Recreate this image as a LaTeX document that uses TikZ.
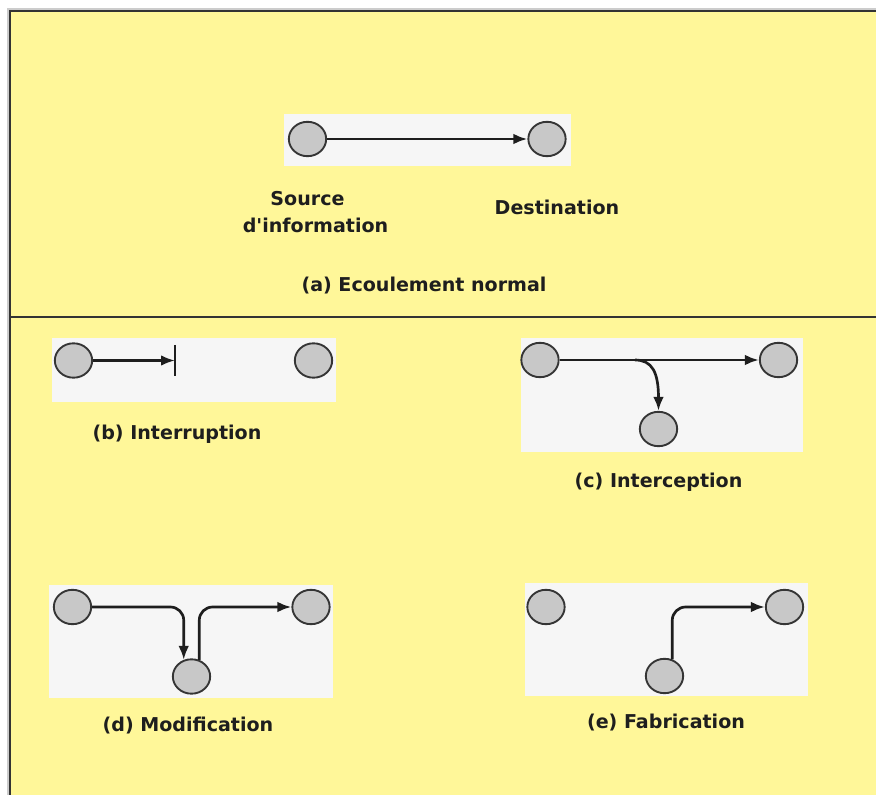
\documentclass[tikz,border=0pt]{standalone}
\usepackage{fontspec}
\newfontfamily\capfont{DejaVu Sans}
\usetikzlibrary{arrows.meta,shapes.geometric}
\definecolor{paper}{HTML}{FFF799}
\definecolor{panelfill}{HTML}{F6F6F6}
\definecolor{ink}{HTML}{1E1E1E}
\definecolor{rim}{HTML}{353535}
\definecolor{disc}{HTML}{C8C8C8}
\definecolor{framec}{HTML}{333333}
\begin{document}
\begin{tikzpicture}[x=0.75pt,y=-0.75pt,
  site/.style={ellipse,draw=rim,fill=disc,line width=1.4pt,
    minimum width=28pt,minimum height=25.8pt,inner sep=0pt},
  flow/.style={draw=ink,line width=2pt,-{Latex[length=10.5pt,width=8pt]}},
  caption/.style={anchor=base,text=ink,inner sep=0pt,
    font=\capfont\bfseries\fontsize{14.3}{17}\selectfont},
  elbow/.style={rounded corners=10pt}]

\useasboundingbox (0,0) rectangle (876,795);
\fill[white] (0,0) rectangle (876,795);

% page background and frame
\fill[paper] (9,10) rectangle (876,795);
\draw[black!20,line width=1pt] (8,795) -- (8,9) -- (876,9);
\draw[framec,line width=1.6pt] (10,795) -- (10,11) -- (876,11);
\draw[framec,line width=1.6pt] (10,317) -- (876,317);

% (a) normal flow
\fill[panelfill] (284,114) rectangle (571,166);
\node[site] (a1) at (307.5,139) {};
\node[site] (a2) at (547,139) {};
\draw[flow] (a1) -- (a2);
\node[caption] (asrc) at (307.5,206) {Source};
\node[caption] (ainfo) at (315.5,233) {d'information};
\node[caption] (adst) at (557,215) {Destination};
\node[caption] (acap) at (424,292) {(a) Ecoulement normal};

% (b) interruption
\fill[panelfill] (52,338) rectangle (336,402);
\node[site] (b1) at (73.5,360.5) {};
\node[site] (b2) at (313.5,360.5) {};
\coordinate (bcut) at (175,360.5);
\draw[flow] (b1) -- (bcut);
\draw[ink,line width=2pt] (bcut) ++(0,-15.5) -- ++(0,31);
\node[caption] (bcap) at (177,440) {(b) Interruption};

% (c) interception
\fill[panelfill] (521,338) rectangle (803,452);
\node[site] (c1) at (540,360) {};
\node[site] (c2) at (778.5,360) {};
\node[site] (c3) at (658.5,429) {};
\draw[flow] (c1) -- (c2);
\coordinate (ctap) at (635,360);
\draw[flow] (ctap) .. controls (652,360) and (658.5,372) .. (c3.north);
\node[caption] (ccap) at (658.5,487) {(c) Interception};

% (d) modification
\fill[panelfill] (49,585) rectangle (333,698);
\node[site] (d1) at (72.5,607) {};
\node[site] (d2) at (311,607) {};
\node[site] (d3) at (191.5,676.5) {};
\draw[flow,elbow] (d1.east) -| (d3.115);
\draw[flow,elbow] (d3.65) |- (d2.west);
\node[caption] (dcap) at (188,731) {(d) Modification};

% (e) fabrication
\fill[panelfill] (525,583) rectangle (808,696);
\node[site] (e1) at (546,607) {};
\node[site] (e2) at (784.5,607) {};
\node[site] (e3) at (664.5,676) {};
\draw[flow,elbow] (e3.65) |- (e2.west);
\node[caption] (ecap) at (666,728) {(e) Fabrication};
\end{tikzpicture}
\end{document}
